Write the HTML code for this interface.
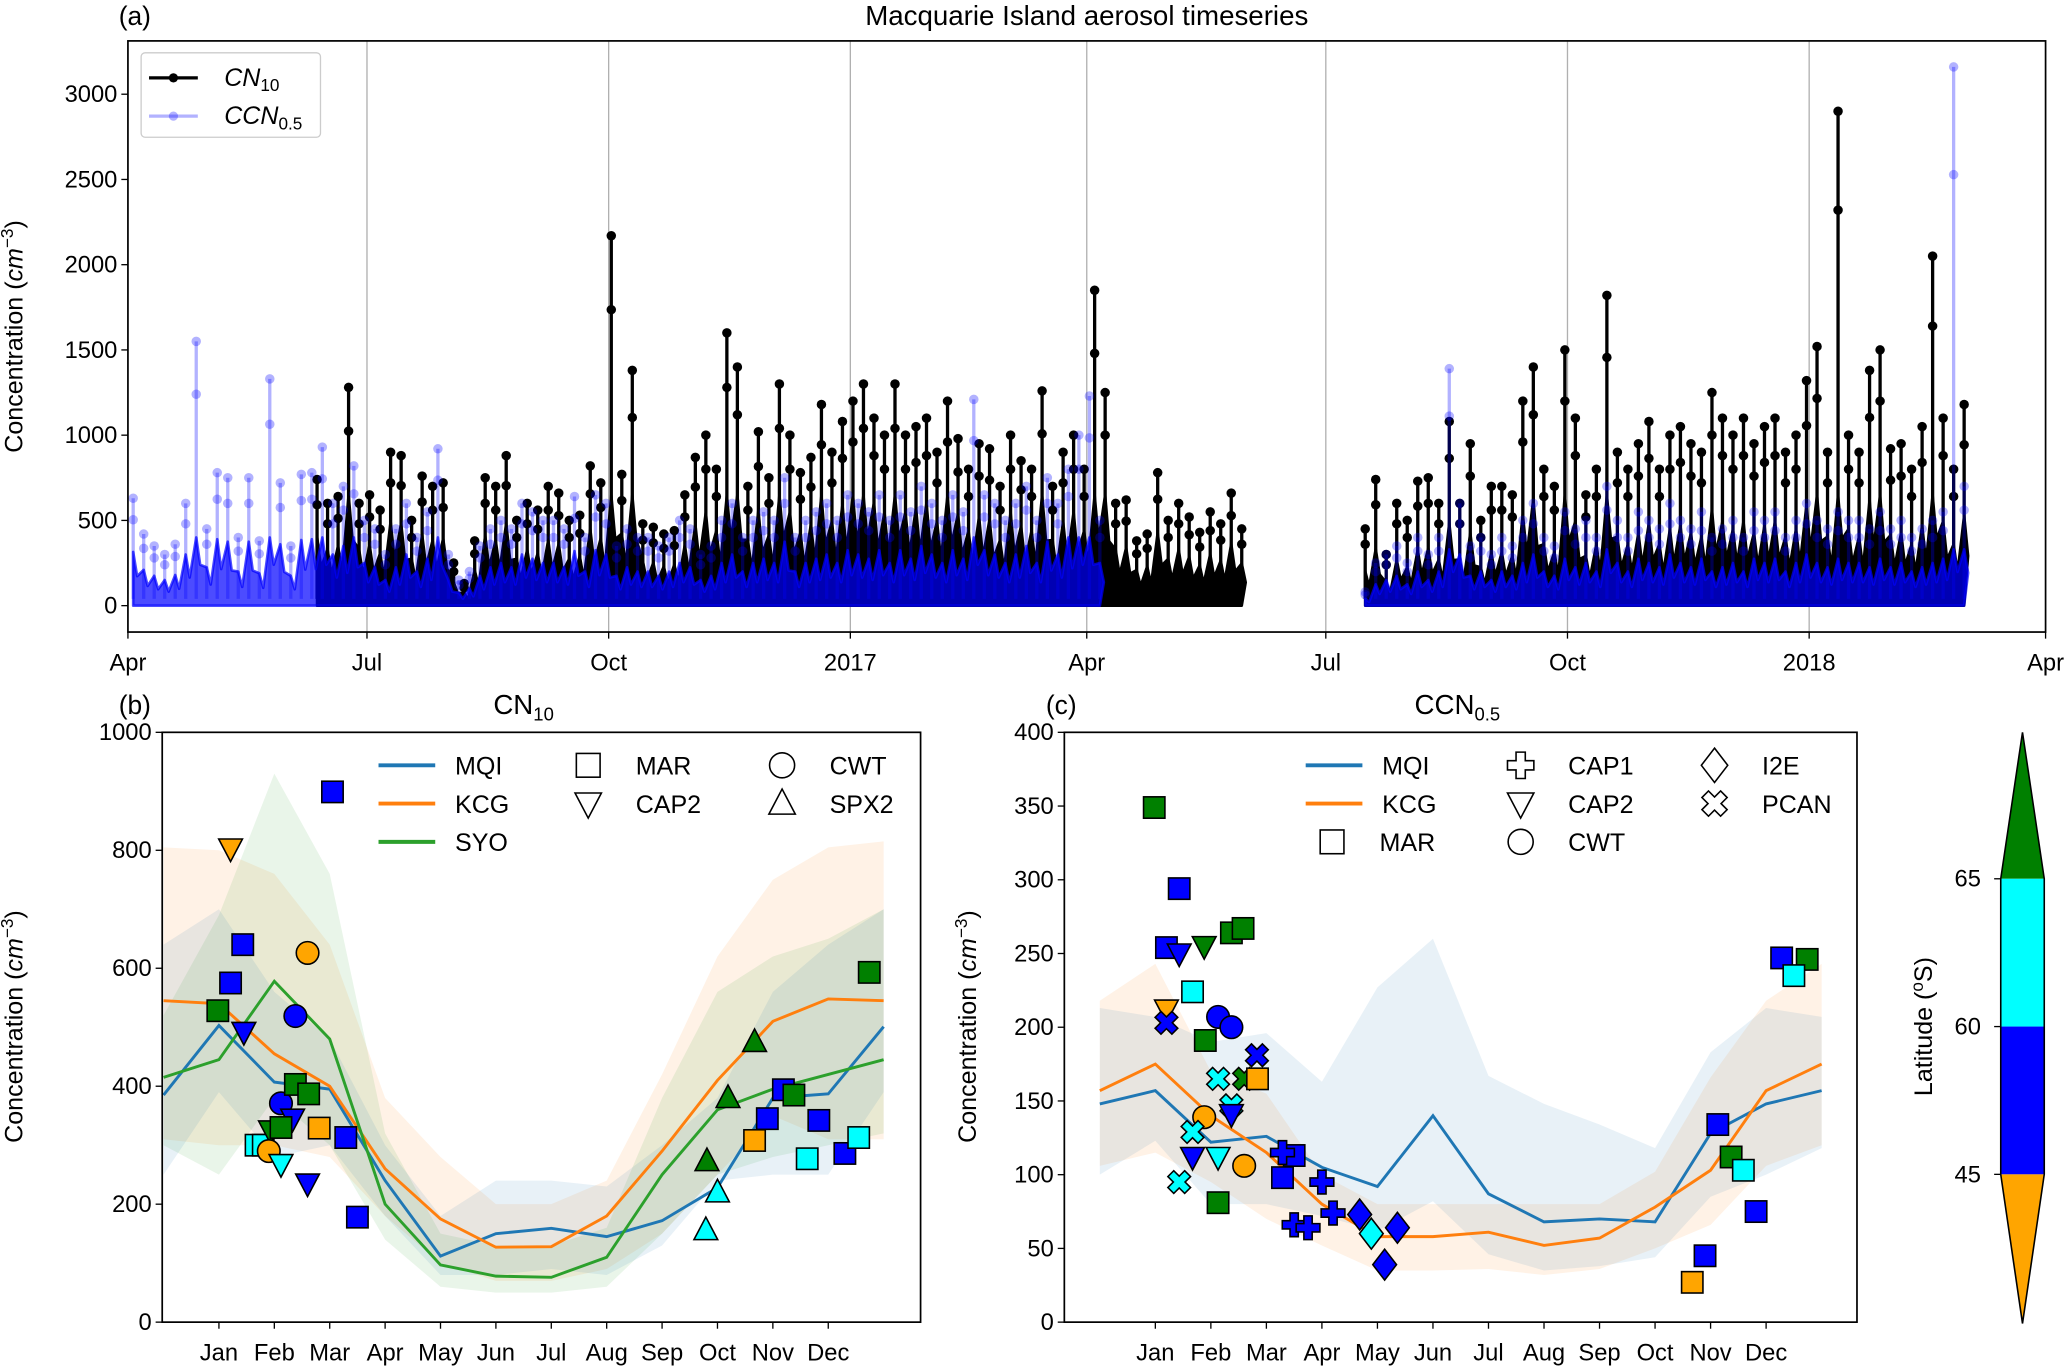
<!DOCTYPE html>
<html><head><meta charset="utf-8"><title>Macquarie Island aerosol</title>
<style>
html,body{margin:0;padding:0;background:#fff;}
svg{display:block;font-family:"Liberation Sans","DejaVu Sans",sans-serif;}
</style></head>
<body>
<svg id="fig" xmlns="http://www.w3.org/2000/svg" width="2068" height="1367" viewBox="0 0 1568 1036" preserveAspectRatio="none"></svg>
<script>
// ---------- Panel (a) data: 4-day bin maxima ----------
const binDays = 4;
const cn1Start = 72;
const cn1Max = [740,600,640,1280,600,650,560,900,880,500,760,700,720,250,130,380,750,700,880,500,600,560,700,660,500,530,820,720,2170,770,1380,480,460,420,440,650,870,1000,800,1600,1400,700,1020,750,1300,1000,780,870,1180,900,1080,1200,1300,1100,1000,1300,1000,1050,1100,900,1200,980,800,950,920,700,1000,850,800,1260,700,900,1000,800,1850,1250,600,620,380,420,780,500,600,520,430,550,480,660,450];
const cn2Start = 471;
const cn2Max = [450,740,300,600,500,730,750,600,1080,600,950,500,700,700,650,1200,1400,800,700,1500,1100,650,800,1820,900,800,950,1080,800,1000,1050,950,900,1250,1100,1000,1100,950,1050,1100,900,1000,1320,1520,900,2900,1000,900,1380,1500,920,950,800,1050,2050,1100,800,1180];
const ccn1Start = 2;
const ccn1Max = [630,420,350,300,360,600,1550,450,780,750,400,750,380,1330,720,350,770,780,930,600,700,820,500,450,300,450,600,400,550,920,300,150,200,350,450,500,450,600,550,500,500,450,640,400,650,600,350,450,400,400,350,400,500,450,300,350,500,600,400,500,550,500,750,400,500,550,600,500,650,600,550,650,500,650,550,700,600,500,650,550,1210,650,600,500,600,700,500,750,600,800,1000,1230,500];
const ccn2Start = 471;
const ccn2Max = [80,250,300,350,250,400,300,400,1390,600,350,400,300,400,350,500,600,400,350,550,450,500,400,700,500,400,550,500,450,600,500,450,550,400,450,500,400,550,500,550,400,500,600,500,450,550,500,500,450,550,450,500,400,450,500,550,3160,700];
const aTickLabels = ["Apr","Jul","Oct","2017","Apr","Jul","Oct","2018","Apr"];
const aTickDays = [0,91,183,275,365,456,548,640,730];
const aYTicks = [0,500,1000,1500,2000,2500,3000];

// ---------- Panel (b) data ----------
const monthLabels = ["Jan","Feb","Mar","Apr","May","Jun","Jul","Aug","Sep","Oct","Nov","Dec"];
const lineMonths = [0,1,2,3,4,5,6,7,8,9,10,11,12,13];
const bMQI = [385,503,407,395,240,112,150,159,145,172,228,380,387,501];
const bKCG = [545,540,455,400,260,175,127,128,180,290,410,510,548,545];
const bSYO = [415,445,578,480,200,97,78,76,110,250,360,395,420,445];
const bMQIhi = [640,700,560,480,300,180,240,240,230,300,380,560,640,700];
const bMQIlo = [250,390,280,300,180,80,80,90,80,130,240,250,250,390];
const bKCGhi = [805,800,760,640,380,280,200,200,240,420,620,750,805,815];
const bKCGlo = [310,300,300,280,180,100,70,70,90,150,250,350,310,310];
const bSYOhi = [520,690,930,760,320,150,130,130,160,380,560,620,650,700];
const bSYOlo = [300,250,380,300,140,60,50,50,60,150,250,280,300,320];
const bYTicks = [0,200,400,600,800,1000];
const bPtMonth = [3.05,1.21,1.43,1.21,2.6,0.98,2.38,1.45,2.12,2.38,2.62,2.33,1.67,1.8,1.93,2.12,1.9,2.12,2.6,2.81,3.29,3.5,10.67,10.19,9.81,9.79,10.0,10.67,10.9,11.19,11.38,11.62,11.83,12.3,12.55,12.74];
const bPtValue = [899,803,640,575,626,528,519,492,371,403,387,345,300,300,325,330,290,268,235,329,313,178,475,380,273,156,220,308,345,394,385,277,342,286,313,593];
const bPtShape = ["sq","tv","sq","sq","ci","sq","ci","tv","ci","sq","sq","tv","sq","sq","tv","sq","ci","tv","tv","sq","sq","sq","tu","tu","tu","tu","tu","sq","sq","sq","sq","sq","sq","sq","sq","sq"];
const bPtColor = ["b","o","b","b","o","g","b","b","b","g","g","b","c","c","g","g","o","c","b","o","b","b","g","g","g","c","c","o","b","b","g","c","b","b","c","g"];

// ---------- Panel (c) data ----------
const cMQI = [148,157,122,126,105,92,140,87,68,70,68,128,148,157];
const cKCG = [157,175,140,115,80,58,58,61,52,57,78,103,157,175];
const cMQIhi = [213,207,190,196,163,227,260,167,148,134,118,183,213,207];
const cMQIlo = [100,123,80,80,72,62,82,46,35,38,44,85,100,118];
const cKCGhi = [218,243,170,155,100,80,80,80,80,80,102,166,218,243];
const cKCGlo = [106,115,95,70,52,35,35,36,32,36,50,66,106,120];
const cYTicks = [0,50,100,150,200,250,300,350,400];
const cPtMonth = [0.98,1.43,1.2,1.43,1.88,2.37,2.58,1.67,1.2,1.2,2.13,2.37,1.9,2.83,2.13,2.6,2.84,2.37,2.37,1.88,1.67,1.67,2.13,2.6,1.43,2.13,3.29,3.5,3.29,4.0,4.2,3.5,3.75,4.68,4.89,5.36,5.13,11.13,11.37,11.59,11.82,10.9,10.67,12.28,12.74,12.5];
const cPtValue = [349,294,254,250,255,264,267,224,212,203,207,200,191,181,165,165,165,147,141,139,129,112,112,106,95,81,98,113,115,95,74,66,64,73,60,64,39,134,112,103,75,45,27,247,246,235];
const cPtShape = ["sq","sq","sq","tv","tv","sq","sq","sq","tv","x","ci","ci","sq","x","x","x","sq","x","tv","ci","x","tv","tv","ci","x","sq","sq","sq","pl","pl","pl","pl","pl","di","di","di","di","sq","sq","sq","sq","sq","sq","sq","sq","sq"];
const cPtColor = ["g","b","b","b","g","g","g","c","o","b","b","b","g","b","c","g","o","c","b","o","c","b","c","o","c","g","b","b","b","b","b","b","b","b","c","b","b","b","g","c","b","b","o","b","g","c"];

const COL = {o:"#ffa500", b:"#0000ff", c:"#00ffff", g:"#008000"};
const svg = document.getElementById('fig');
const NS = "http://www.w3.org/2000/svg";
function mk(tag, attrs, parent){
  const e = document.createElementNS(NS, tag);
  for (const k in attrs) e.setAttribute(k, attrs[k]);
  (parent||svg).appendChild(e);
  return e;
}
function txt(s, x, y, size, anchor, parent){
  const t = mk('text', {x:x, y:y, 'font-size':size, 'text-anchor':anchor||'middle', fill:'#000'}, parent);
  t.textContent = s;
  return t;
}
const TICK = 18, LEG = 19, LAB = 19;

// ================= Panel (a) =================
const A = {l:97, r:1551, t:31, b:479};
const xA = d => A.l + d*(A.r-A.l)/730;
const yA = v => 459 - v*(459-71.4)/3000;
const gA = mk('g', {});


aTickDays.forEach((d,i)=>{
  if (i>0 && i<aTickDays.length-1){
    const gl = mk('line', {x1:xA(d), x2:xA(d), y1:A.t, y2:A.b, stroke:'#b0b0b0', 'stroke-width':1}, gA);
    
    
  }
  mk('line', {x1:xA(d), x2:xA(d), y1:A.b, y2:A.b+5, stroke:'#000', 'stroke-width':1}, gA);
  const t = txt(aTickLabels[i], xA(d), 508, TICK, 'middle', gA);
  
  
});
aYTicks.forEach(v=>{
  mk('line', {x1:A.l-5, x2:A.l, y1:yA(v), y2:yA(v), stroke:'#000', 'stroke-width':1}, gA);
  const t = txt(String(v), A.l-8, yA(v)+6, TICK, 'end', gA);
  
  
});
function drawSeries(start, vals, frac, cap, opts, name){
  const g = mk('g', {}, gA);
  
  
  // dense band: jagged envelope below each bin's maximum
  let d = 'M' + xA(start) + ',' + yA(0);
  vals.forEach((v,i)=>{
    const x = xA(start+i*binDays);
    d += ' L' + x + ',' + yA(Math.min(v*frac, cap));
    d += ' L' + (x+3) + ',' + yA(Math.min(v*frac*0.55, cap*0.6));
  });
  d += ' L' + xA(start+(vals.length-1)*binDays) + ',' + yA(0) + ' Z';
  mk('path', {d:d, fill:opts.band, 'fill-opacity':opts.bandOp, stroke:opts.band, 'stroke-opacity':opts.bandOp, 'stroke-width':2, 'stroke-linejoin':'round'}, g);
  // spikes
  vals.forEach((v,i)=>{
    const x = xA(start+i*binDays);
    mk('line', {x1:x, x2:x, y1:yA(40), y2:yA(v), stroke:opts.line, 'stroke-opacity':opts.lineOp, 'stroke-width':2.5}, g);
    mk('circle', {cx:x, cy:yA(v), r:3.6, fill:opts.line, 'fill-opacity':opts.lineOp}, g);
    mk('circle', {cx:x, cy:yA(v*0.8), r:3.6, fill:opts.line, 'fill-opacity':opts.lineOp}, g);
  });
}
drawSeries(cn1Start, cn1Max, 0.55, 650, {band:'#000', bandOp:1, line:'#000', lineOp:1}, 'cn10-series-part1');
drawSeries(cn2Start, cn2Max, 0.45, 650, {band:'#000', bandOp:1, line:'#000', lineOp:1}, 'cn10-series-part2');
drawSeries(ccn1Start, ccn1Max, 0.5, 400, {band:'#0000ff', bandOp:0.7, line:'#0000ff', lineOp:0.3}, 'ccn05-series-part1');
drawSeries(ccn2Start, ccn2Max, 0.5, 330, {band:'#0000ff', bandOp:0.7, line:'#0000ff', lineOp:0.3}, 'ccn05-series-part2');
const fa = mk('rect', {x:A.l, y:A.t, width:A.r-A.l, height:A.b-A.t, fill:'none', stroke:'#000', 'stroke-width':1.3}, gA);


// legend a
const lgA = mk('g', {}, gA);


mk('rect', {x:107, y:40, width:136, height:64, rx:3, fill:'#fff', 'fill-opacity':0.85, stroke:'#ccc', 'stroke-width':1}, lgA);
mk('line', {x1:113, x2:150, y1:59, y2:59, stroke:'#000', 'stroke-width':2.5}, lgA);
mk('circle', {cx:131.5, cy:59, r:3.5, fill:'#000'}, lgA);
mk('line', {x1:113, x2:150, y1:88, y2:88, stroke:'#0000ff', 'stroke-opacity':0.3, 'stroke-width':2.5}, lgA);
mk('circle', {cx:131.5, cy:88, r:3.5, fill:'#0000ff', 'fill-opacity':0.3}, lgA);
const la1 = mk('text', {x:170, y:65, 'font-size':LEG, 'font-style':'italic'}, lgA);
la1.innerHTML = 'CN<tspan font-style="normal" font-size="13" dy="4">10</tspan>';


const la2 = mk('text', {x:170, y:94, 'font-size':LEG, 'font-style':'italic'}, lgA);
la2.innerHTML = 'CCN<tspan font-style="normal" font-size="13" dy="4">0.5</tspan>';


const ta = txt('(a)', 90, 19, 20, 'start');


const tta = txt('Macquarie Island aerosol timeseries', 824, 19, 21);


function yLabel(x, y, name){
  const t = mk('text', {x:0, y:0, 'font-size':LAB, 'text-anchor':'middle', transform:'translate('+x+','+y+') rotate(-90)'});
  t.innerHTML = 'Concentration (<tspan font-style="italic">cm</tspan><tspan font-size="13" dy="-7">−3</tspan><tspan dy="7">)</tspan>';
  
  
}
yLabel(17, 255, 'y-axis-title-a');

// ================= Marker drawing =================
function marker(g, shape, x, y, fill, s){
  s = s||9;
  const st = {fill:fill, stroke:'#000', 'stroke-width':1.2};
  let e;
  if (shape==='sq') e = mk('rect', Object.assign({x:x-s*0.9, y:y-s*0.9, width:s*1.8, height:s*1.8}, st), g);
  else if (shape==='ci') e = mk('circle', Object.assign({cx:x, cy:y, r:s*0.95}, st), g);
  else if (shape==='tv') e = mk('polygon', Object.assign({points:(x-s)+','+(y-s*0.8)+' '+(x+s)+','+(y-s*0.8)+' '+x+','+(y+s*1.1)}, st), g);
  else if (shape==='tu') e = mk('polygon', Object.assign({points:(x-s)+','+(y+s*0.8)+' '+(x+s)+','+(y+s*0.8)+' '+x+','+(y-s*1.1)}, st), g);
  else if (shape==='di') e = mk('polygon', Object.assign({points:x+','+(y-s*1.3)+' '+(x+s)+','+y+' '+x+','+(y+s*1.3)+' '+(x-s)+','+y}, st), g);
  else if (shape==='pl'){ const a=s*0.35, b=s; e = mk('polygon', Object.assign({points:[[-a,-b],[a,-b],[a,-a],[b,-a],[b,a],[a,a],[a,b],[-a,b],[-a,a],[-b,a],[-b,-a],[-a,-a]].map(p=>(x+p[0])+','+(y+p[1])).join(' ')}, st), g); }
  else if (shape==='x'){ const a=s*0.35, b=s; const pts=[[-a,-b],[a,-b],[a,-a],[b,-a],[b,a],[a,a],[a,b],[-a,b],[-a,a],[-b,a],[-b,-a],[-a,-a]].map(p=>{const r=Math.SQRT1_2;return (x+(p[0]-p[1])*r)+','+(y+(p[0]+p[1])*r);}).join(' '); e = mk('polygon', Object.assign({points:pts}, st), g); }
  return e;
}

// ================= Seasonal panels =================
function seasonal(P){
  const xM = m => P.xJan + (m-1)*P.dm;
  const yV = v => P.b - v*(P.b-P.t)/P.ymax;
  const g = mk('g', {});
  
  
  P.bands.forEach(bd=>{
    let d = '';
    lineMonths.forEach((m,i)=>{ d += (i?' L':'M') + xM(m) + ',' + yV(bd.hi[i]); });
    for (let i=lineMonths.length-1;i>=0;i--) d += ' L' + xM(lineMonths[i]) + ',' + yV(bd.lo[i]);
    const p = mk('path', {d:d+' Z', fill:bd.c, 'fill-opacity':0.1, stroke:'none'}, g);
    
    
  });
  P.lines.forEach(ln=>{
    const p = mk('polyline', {points:lineMonths.map((m,i)=>xM(m)+','+yV(ln.v[i])).join(' '), fill:'none', stroke:ln.c, 'stroke-width':2.2}, g);
    
    
  });
  P.pm.forEach((m,i)=>{
    const e = marker(g, P.ps[i], xM(m), yV(P.pv[i]), COL[P.pc[i]]);
    
    
  });
  mk('rect', {x:P.l, y:P.t, width:P.r-P.l, height:P.b-P.t, fill:'none', stroke:'#000', 'stroke-width':1.3}, g);
  P.yt.forEach(v=>{
    mk('line', {x1:P.l-5, x2:P.l, y1:yV(v), y2:yV(v), stroke:'#000'}, g);
    const t = txt(String(v), P.l-8, yV(v)+6, TICK, 'end', g);
    
    
  });
  monthLabels.forEach((s,i)=>{
    mk('line', {x1:xM(i+1), x2:xM(i+1), y1:P.b, y2:P.b+5, stroke:'#000'}, g);
    const t = txt(s, xM(i+1), 1031, TICK, 'middle', g);
    
    
  });
  return g;
}
seasonal({name:'cn10-seasonal-panel', l:123, r:698, t:555, b:1002, ymax:1000, xJan:166, dm:42,
  bands:[{hi:bKCGhi, lo:bKCGlo, c:'#ff7f0e', n:'kcg-range'},{hi:bSYOhi, lo:bSYOlo, c:'#2ca02c', n:'syo-range'},{hi:bMQIhi, lo:bMQIlo, c:'#1f77b4', n:'mqi-range'}],
  lines:[{v:bMQI, c:'#1f77b4', n:'mqi-line'},{v:bKCG, c:'#ff7f0e', n:'kcg-line'},{v:bSYO, c:'#2ca02c', n:'syo-line'}],
  pm:bPtMonth, pv:bPtValue, ps:bPtShape, pc:bPtColor, yt:bYTicks});
seasonal({name:'ccn05-seasonal-panel', l:807, r:1408, t:555, b:1002, ymax:400, xJan:876, dm:42.1,
  bands:[{hi:cKCGhi, lo:cKCGlo, c:'#ff7f0e', n:'kcg-range'},{hi:cMQIhi, lo:cMQIlo, c:'#1f77b4', n:'mqi-range'}],
  lines:[{v:cMQI, c:'#1f77b4', n:'mqi-line'},{v:cKCG, c:'#ff7f0e', n:'kcg-line'}],
  pm:cPtMonth, pv:cPtValue, ps:cPtShape, pc:cPtColor, yt:cYTicks});

const tb = txt('(b)', 90, 541, 20, 'start');  
const ttb = mk('text', {x:397, y:541, 'font-size':21, 'text-anchor':'middle'}); ttb.innerHTML='CN<tspan font-size="14" dy="5">10</tspan>';
 
const tc = txt('(c)', 793, 541, 20, 'start');  
const ttc = mk('text', {x:1105, y:541, 'font-size':21, 'text-anchor':'middle'}); ttc.innerHTML='CCN<tspan font-size="14" dy="5">0.5</tspan>';
 
yLabel(17, 778, 'y-axis-title-b');
yLabel(740, 778, 'y-axis-title-c');

function legLine(g, x, y, c, label){
  mk('line', {x1:x, x2:x+43, y1:y, y2:y, stroke:c, 'stroke-width':3}, g);
  const t = txt(label, x+58, y+7, LEG, 'start', g);
  
  
}
function legMark(g, x, y, shape, label){
  marker(g, shape, x, y, '#fff', 10);
  const t = txt(label, x+36, y+7, LEG, 'start', g);
  
  
}
const lgB = mk('g', {});  
legLine(lgB, 287, 580, '#1f77b4', 'MQI'); legLine(lgB, 287, 609, '#ff7f0e', 'KCG'); legLine(lgB, 287, 638, '#2ca02c', 'SYO');
legMark(lgB, 446, 580, 'sq', 'MAR'); legMark(lgB, 446, 609, 'tv', 'CAP2');
legMark(lgB, 593, 580, 'ci', 'CWT'); legMark(lgB, 593, 609, 'tu', 'SPX2');
const lgC = mk('g', {});  
legLine(lgC, 990, 580, '#1f77b4', 'MQI'); legLine(lgC, 990, 609, '#ff7f0e', 'KCG');
legMark(lgC, 1010, 638, 'sq', 'MAR');
legMark(lgC, 1153, 580, 'pl', 'CAP1'); legMark(lgC, 1153, 609, 'tv', 'CAP2'); legMark(lgC, 1153, 638, 'ci', 'CWT');
legMark(lgC, 1300, 580, 'di', 'I2E'); legMark(lgC, 1300, 609, 'x', 'PCAN');

const cb = mk('g', {});  
mk('polygon', {points:'1517,666 1550,666 1533.5,555', fill:'#008000'}, cb);
mk('rect', {x:1517, y:666, width:33, height:112, fill:'#00ffff'}, cb);
mk('rect', {x:1517, y:778, width:33, height:112, fill:'#0000ff'}, cb);
mk('polygon', {points:'1517,890 1550,890 1533.5,1003', fill:'#ffa500'}, cb);
mk('polygon', {points:'1533.5,555 1550,666 1550,890 1533.5,1003 1517,890 1517,666', fill:'none', stroke:'#000', 'stroke-width':1.2}, cb);
[[65,666],[60,778],[45,890]].forEach(p=>{
  mk('line', {x1:1512, x2:1517, y1:p[1], y2:p[1], stroke:'#000'}, cb);
  const t = txt(String(p[0]), 1502, p[1]+6, TICK, 'end', cb);
   
});
const cbl = mk('text', {x:0, y:0, 'font-size':LAB, 'text-anchor':'middle', transform:'translate(1465,778) rotate(-90)'}, cb);
cbl.innerHTML = 'Latitude (<tspan font-size="13" dy="-7">o</tspan><tspan dy="7">S)</tspan>';
 
</script>
</body></html>
